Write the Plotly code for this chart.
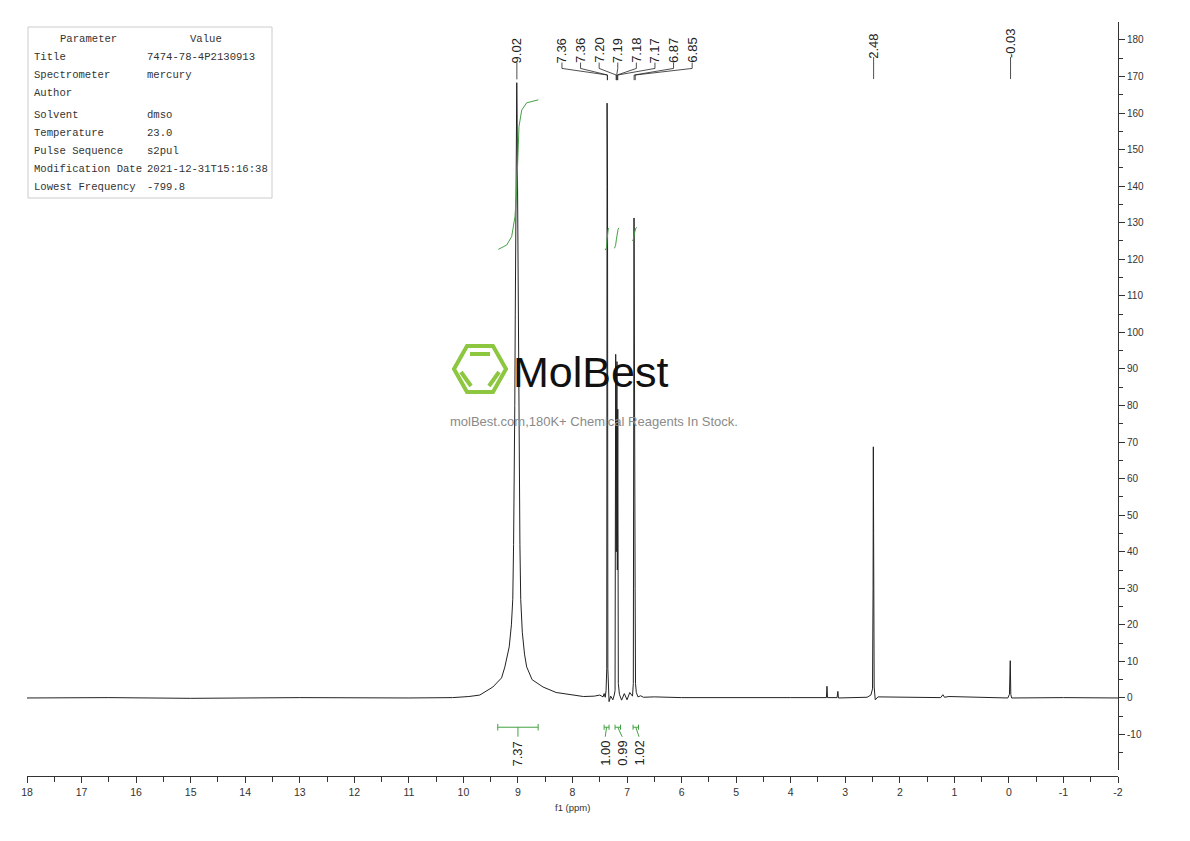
"""1H NMR spectrum (dmso) with peak picks, integrals and parameter table."""

import plotly.graph_objects as go

# ---- data ------------------------------------------------------------------
spec_ppm = [18.0, 16.5, 15.0, 13.0, 11.0, 10.2, 9.9, 9.70, 9.46, 9.30, 9.24, 9.16,
            9.12, 9.095, 9.08, 9.067, 9.058, 9.049, 9.042, 9.036, 9.028, 9.022,
            9.016, 9.008, 9.002, 8.995, 8.986, 8.977, 8.964, 8.949, 8.92, 8.88, 8.84,
            8.74, 8.54, 8.30, 8.0, 7.80, 7.60, 7.50, 7.44,
            7.42, 7.40, 7.385, 7.372, 7.366, 7.362, 7.358, 7.352, 7.345, 7.33, 7.30,
            7.26, 7.235, 7.22, 7.208, 7.198, 7.192, 7.185, 7.178, 7.17, 7.16, 7.14,
            7.10, 7.05, 7.00, 6.95, 6.90, 6.885, 6.872, 6.866, 6.86, 6.852, 6.845,
            6.83, 6.80, 6.75, 6.70, 6.5, 6.0, 5.0, 4.0, 3.5, 3.345, 3.335, 3.325,
            3.15, 3.135, 3.125, 2.60, 2.53, 2.50, 2.49, 2.485, 2.48, 2.47, 2.45,
            2.40, 1.25, 1.21, 1.18, 1.1, 0.5, 0.02, -0.01, -0.025, -0.035, -0.05,
            -1.0, -2.0]
spec_int = [0.0, 0.1, -0.1, 0.1, 0.0, 0.1, 0.4, 0.8, 3.0, 5.5, 8.5, 14.0,
            20.0, 27.0, 42.0, 60.0, 80.0, 105.0, 125.0, 140.0, 160.0, 168.3,
            160.0, 140.0, 125.0, 105.0, 80.0, 60.0, 42.0, 27.0, 18.0, 12.0, 8.5,
            5.0, 3.0, 1.5, 0.8, 0.4, 0.5, 0.8, 0.3,
            1.2, 0.2, 2.0, 8.0, 162.7, 70.0, 140.0, 8.0, 1.0, -1.0, 0.5,
            -0.5, 0.8, 2.0, 94.0, 40.0, 79.0, 92.0, 35.0, 79.0, 4.0, 1.0,
            -0.6, 1.2, -0.5, 1.5, 0.5, 4.0, 131.3, 60.0, 122.5, 30.0, 4.0,
            1.5, 0.3, 0.6, 0.2, 0.3, 0.1, 0.0, 0.1, 0.1, 0.1, 3.2, 0.1,
            0.1, 1.8, 0.0, 0.2, 0.8, 2.5, 30.0, 68.7, 45.0, 3.0, -0.5,
            0.3, 0.1, 0.9, 0.2, 0.4, 0.1, 0.0, 1.0, 10.2, 1.0, 0.0,
            0.1, 0.0]

# integral curves (green)
int1_ppm = [9.36, 9.206, 9.115, 9.054, 9.023, 9.004, 8.981, 8.931, 8.84, 8.627]
int1_val = [122.7, 123.9, 126.2, 131.7, 139.0, 148.1, 156.3, 160.8, 162.8, 163.6]
int2_ppm = [7.40, 7.375, 7.366, 7.358, 7.345, 7.33]
int2_val = [122.5, 123.2, 125.5, 127.5, 128.3, 128.6]
int3_ppm = [7.23, 7.21, 7.195, 7.18, 7.165, 7.15]
int3_val = [123.0, 123.8, 125.5, 127.2, 128.2, 128.6]
int4_ppm = [6.90, 6.88, 6.87, 6.855, 6.84, 6.82]
int4_val = [125.0, 125.6, 126.8, 128.0, 128.5, 128.7]

# integration ranges and values
int_from = [9.37, 7.42, 7.22, 6.89]
int_to = [8.63, 7.33, 7.12, 6.79]
int_labels = ["7.37", "1.00", "0.99", "1.02"]

# peak picks
peak_ppm = [9.02, 7.36, 7.36, 7.20, 7.19, 7.18, 7.17, 6.87, 6.85, 2.48, -0.03]
peak_text = ["9.02", "7.36", "7.36", "7.20", "7.19", "7.18", "7.17", "6.87", "6.85",
             "2.48", "-0.03"]

# parameter table
param_names = ["Title", "Spectrometer", "Author", "Solvent", "Temperature",
               "Pulse Sequence", "Modification Date", "Lowest Frequency"]
param_values = ["7474-78-4P2130913", "mercury", "", "dmso", "23.0", "s2pul",
                "2021-12-31T15:16:38", "-799.8"]

x_ticks = list(range(18, -3, -1))
y_ticks = list(range(-10, 190, 10))

# ---- layout helpers --------------------------------------------------------
OFF = 8                      # page body margin
W, H = 1182, 833
L, R, T, B = 19, 72, 14, 65
PW, PH = W - L - R, H - T - B


def px(x):
    """screen pixel x -> paper"""
    return (x - OFF - L) / PW


def py(y):
    """screen pixel y -> paper"""
    return (H - B - (y - OFF)) / PH


GREEN = "#45a045"
INK = "#222222"
TICKFONT = "Liberation Sans, Arial, sans-serif"

fig = go.Figure()

fig.add_trace(go.Scatter(x=spec_ppm, y=spec_int, mode="lines",
                         line=dict(color=INK, width=1), hoverinfo="skip"))

for xs, ys in [(int1_ppm, int1_val), (int2_ppm, int2_val),
               (int3_ppm, int3_val), (int4_ppm, int4_val)]:
    fig.add_trace(go.Scatter(x=xs, y=ys, mode="lines",
                             line=dict(color=GREEN, width=1), hoverinfo="skip"))

annotations = []

# integration brackets + labels
lab_x = [9.0, 7.40, 7.09, 6.78]
for i, (a, b, t) in enumerate(zip(int_from, int_to, int_labels)):
    yb = -8.0
    cap = 0.9 if i == 0 else 0.7
    mid = (a + b) / 2
    xs = [a, a, None, a, b, None, b, b, None, mid, lab_x[i]]
    ys = [yb - cap, yb + cap, None, yb, yb, None, yb - cap, yb + cap, None,
          yb, -10.6]
    fig.add_trace(go.Scatter(x=xs, y=ys, mode="lines",
                             line=dict(color=GREEN, width=1), hoverinfo="skip"))
    annotations.append(dict(x=lab_x[i], y=-15.2, xref="x", yref="y", text=t,
                            textangle=-90, showarrow=False,
                            xanchor="center", yanchor="middle",
                            font=dict(family="Liberation Sans, Arial", size=13,
                                      color=INK)))

# peak pick labels with leader lines
cluster = list(range(1, 9))
spacing = 0.341
for i, (p, t) in enumerate(zip(peak_ppm, peak_text)):
    if i in cluster:
        k = i - 1
        lx = 7.0 + (3.5 - k) * spacing
        xs = [lx, lx, p, p]
        ys = [173.8, 172.2, 170.4, 169.0]
        cy = 177.1
    elif i == 0:
        lx = p
        xs = [p, p]
        ys = [173.8, 169.2]
        cy = 177.1
    else:
        lx = p
        xs = [p, p]
        ys = [175.3, 169.3]
        cy = 178.3 if t == "2.48" else 179.0
    fig.add_trace(go.Scatter(x=xs, y=ys, mode="lines",
                             line=dict(color=INK, width=0.8), hoverinfo="skip"))
    annotations.append(dict(x=lx, y=cy, xref="x", yref="y", text=t,
                            textangle=-90, showarrow=False,
                            xanchor="center", yanchor="middle",
                            font=dict(family="Liberation Sans, Arial", size=13,
                                      color=INK)))

# parameter table
mono = dict(family="Liberation Mono, Courier New, monospace", size=10.6,
            color="#333333")


def paper_text(x, y, text, font, xanchor="center"):
    annotations.append(dict(x=px(x), y=py(y), xref="paper", yref="paper",
                            text=text, showarrow=False, xanchor=xanchor,
                            yanchor="middle", font=font))


paper_text(88, 39, "Parameter", mono)
paper_text(206, 39, "Value", mono)
row_y = [57, 75, 93, 115, 133, 151, 169, 187]
for name, val, ry in zip(param_names, param_values, row_y):
    paper_text(32, ry, name, mono, "left")
    if val:
        paper_text(145, ry, val, mono, "left")

# watermark
paper_text(511, 372, "MolBest",
           dict(family="Liberation Sans, Arial", size=43, color="#111111"), "left")
paper_text(594, 421, "molBest.com,180K+ Chemical Reagents In Stock.",
           dict(family="Liberation Sans, Arial", size=13, color="#8a8a8a"))
paper_text(572, 807, "f1 (ppm)", dict(family=TICKFONT, size=9.5, color="#333333"))

shapes = [
    dict(type="rect", xref="paper", yref="paper", x0=px(28), x1=px(272),
         y0=py(27), y1=py(198), line=dict(color="#cccccc", width=1)),
]
hexagon = [(454, 369), (467, 346), (493, 346), (506, 369), (493, 392), (467, 392)]
path = "M " + " L ".join(f"{px(a)},{py(b)}" for a, b in hexagon) + " Z"
shapes.append(dict(type="path", xref="paper", yref="paper", path=path,
                   line=dict(color="#8dc63f", width=4)))
for (a, b), (c, d) in [((470, 354), (490, 354)), ((461, 372), (471, 386)),
                       ((489, 386), (499, 372))]:
    shapes.append(dict(type="line", xref="paper", yref="paper", x0=px(a),
                       y0=py(b), x1=px(c), y1=py(d),
                       line=dict(color="#8dc63f", width=4)))

y_bottom = -19.7
y_top = 184.9
fig.update_layout(
    width=W, height=H, autosize=False,
    margin=dict(l=L, r=R, t=T, b=B),
    paper_bgcolor="white", plot_bgcolor="white",
    showlegend=False,
    annotations=annotations,
    shapes=shapes,
    xaxis=dict(range=[18, -2], anchor="free", position=0,
               showgrid=False, zeroline=False, automargin=False,
               showline=True, linecolor="#333333", linewidth=1,
               ticks="outside", ticklen=6, tickcolor="#333333",
               tickmode="array", tickvals=x_ticks,
               ticktext=[str(v) for v in x_ticks],
               tickfont=dict(family=TICKFONT, size=10.5, color="#333333"),
               minor=dict(tickmode="linear", tick0=0, dtick=0.5, ticklen=5,
                          ticks="outside", tickcolor="#333333", showgrid=False)),
    yaxis=dict(range=[y_bottom, y_top], domain=[6 / PH, 1], side="right",
               anchor="x", showgrid=False, zeroline=False, automargin=False,
               showline=True, linecolor="#333333", linewidth=1,
               ticks="outside", ticklen=6, tickcolor="#333333",
               tickmode="array", tickvals=y_ticks,
               ticktext=[str(v) for v in y_ticks],
               tickfont=dict(family=TICKFONT, size=10, color="#333333"),
               minor=dict(tickmode="linear", tick0=0, dtick=5, ticklen=4,
                          ticks="outside", tickcolor="#333333", showgrid=False)),
)

fig.write_html("out.html")
